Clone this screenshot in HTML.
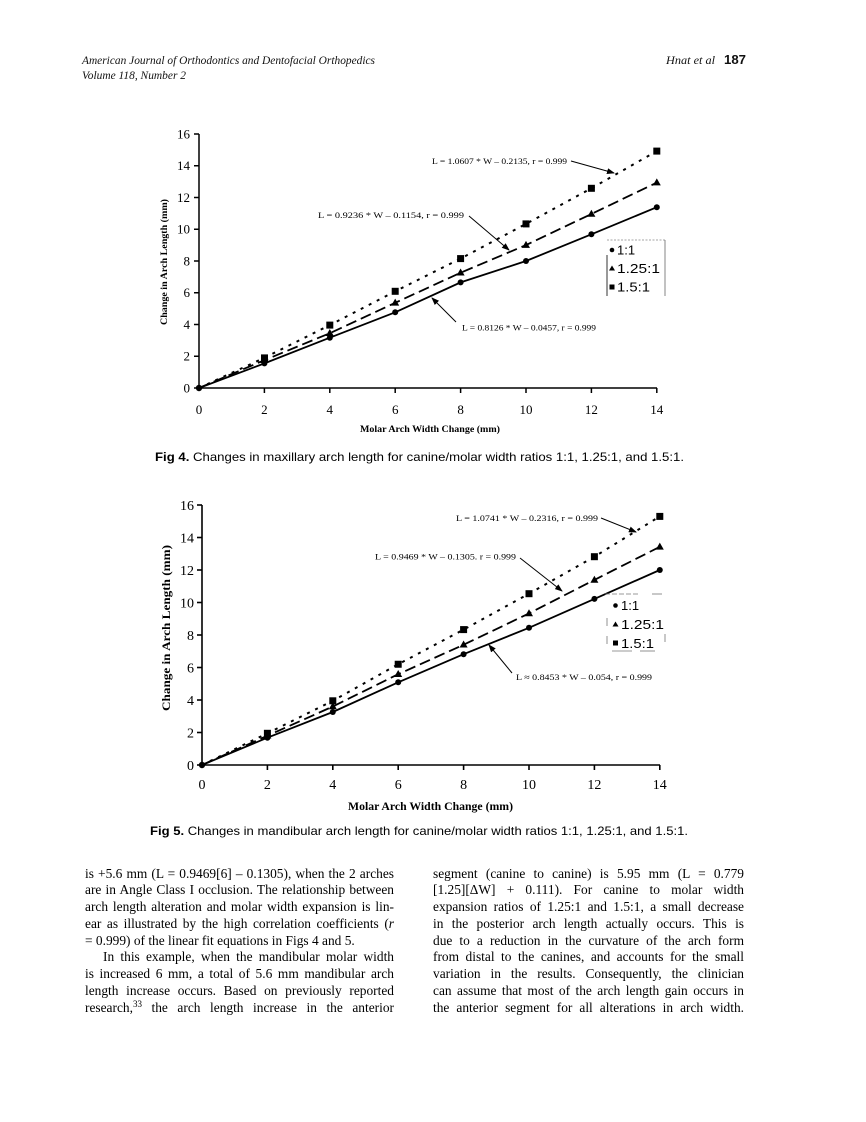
<!DOCTYPE html>
<html><head><meta charset="utf-8">
<style>
html,body{margin:0;padding:0;background:#fff;}
body{position:relative;width:866px;height:1122px;overflow:hidden;}
svg{display:block;position:absolute;left:0;top:0;}
.ser{font-family:"Liberation Serif",serif;}
.san{font-family:"Liberation Sans",sans-serif;}
.col{position:absolute;font-family:"Liberation Serif",serif;font-size:13.4px;line-height:16.75px;color:#000;}
.col div{white-space:nowrap;text-align:justify;text-align-last:justify;height:16.75px;}
.col div.end{text-align-last:left;}
.col sup{font-size:9px;line-height:0;vertical-align:5px;}
</style></head>
<body>
<svg width="866" height="1122" viewBox="0 0 866 1122" xmlns="http://www.w3.org/2000/svg">
<defs>
<marker id="ah" markerWidth="8" markerHeight="6" refX="7" refY="3" orient="auto" markerUnits="userSpaceOnUse">
<path d="M0,0 L8,3 L0,6 z" fill="#000"/>
</marker>
</defs>
<rect width="866" height="1122" fill="#fff"/>

<!-- Header -->
<g class="ser" font-style="italic" font-size="11.5" fill="#111">
<text x="82" y="64" textLength="293" lengthAdjust="spacingAndGlyphs">American Journal of Orthodontics and Dentofacial Orthopedics</text>
<text x="82" y="79" textLength="104" lengthAdjust="spacingAndGlyphs">Volume 118, Number 2</text>
<text x="666" y="64" textLength="49" lengthAdjust="spacingAndGlyphs">Hnat et al</text>
</g>
<text class="san" x="724" y="64" font-size="12.5" font-weight="bold" fill="#111" textLength="22" lengthAdjust="spacingAndGlyphs">187</text>

<!-- ================= CHART 1 ================= -->
<g stroke="#000" stroke-width="1.5" fill="none">
<line x1="199" y1="134" x2="199" y2="388"/>
<line x1="199" y1="388" x2="657" y2="388"/>
<line x1="194" y1="388" x2="199" y2="388"/>
<line x1="194" y1="356.25" x2="199" y2="356.25"/>
<line x1="194" y1="324.5" x2="199" y2="324.5"/>
<line x1="194" y1="292.75" x2="199" y2="292.75"/>
<line x1="194" y1="261" x2="199" y2="261"/>
<line x1="194" y1="229.25" x2="199" y2="229.25"/>
<line x1="194" y1="197.5" x2="199" y2="197.5"/>
<line x1="194" y1="165.75" x2="199" y2="165.75"/>
<line x1="194" y1="134" x2="199" y2="134"/>
<line x1="264.4" y1="388" x2="264.4" y2="393"/>
<line x1="329.8" y1="388" x2="329.8" y2="393"/>
<line x1="395.2" y1="388" x2="395.2" y2="393"/>
<line x1="460.6" y1="388" x2="460.6" y2="393"/>
<line x1="526" y1="388" x2="526" y2="393"/>
<line x1="591.4" y1="388" x2="591.4" y2="393"/>
<line x1="656.8" y1="388" x2="656.8" y2="393"/>
</g>
<g class="ser" font-size="13" fill="#000" text-anchor="end">
<text x="190" y="392.5">0</text>
<text x="190" y="360.7">2</text>
<text x="190" y="329">4</text>
<text x="190" y="297.2">6</text>
<text x="190" y="265.5">8</text>
<text x="190" y="233.7">10</text>
<text x="190" y="202">12</text>
<text x="190" y="170.2">14</text>
<text x="190" y="138.5">16</text>
</g>
<g class="ser" font-size="13" fill="#000" text-anchor="middle">
<text x="199" y="414">0</text>
<text x="264.4" y="414">2</text>
<text x="329.8" y="414">4</text>
<text x="395.2" y="414">6</text>
<text x="460.6" y="414">8</text>
<text x="526" y="414">10</text>
<text x="591.4" y="414">12</text>
<text x="656.8" y="414">14</text>
</g>
<text class="ser" x="360" y="432" font-size="9.5" font-weight="bold" textLength="140" lengthAdjust="spacingAndGlyphs">Molar Arch Width Change (mm)</text>
<text class="ser" transform="translate(167,262) rotate(-90)" x="-63" y="0" font-size="9.5" font-weight="bold" textLength="126" lengthAdjust="spacingAndGlyphs">Change in Arch Length (mm)</text>

<polyline fill="none" stroke="#000" stroke-width="1.8" points="199,388 264.4,363.4 329.8,337.7 395.2,312.3 460.6,282.4 526,261 591.4,234.3 656.8,207.2"/>
<polyline fill="none" stroke="#000" stroke-width="1.8" stroke-dasharray="11 5" points="199,388 264.4,360.2 329.8,333.2 395.2,302.8 460.6,272.7 526,245.1 591.4,214 656.8,182.6"/>
<polyline fill="none" stroke="#000" stroke-width="2" stroke-dasharray="3 6" points="199,388 264.4,357.8 329.8,325.1 395.2,291.3 460.6,258.6 526,223.9 591.4,188.3 656.8,151.1"/>
<g fill="#000">
<circle cx="199" cy="388" r="3.2"/>
<circle cx="264.4" cy="363.4" r="3"/><circle cx="329.8" cy="337.7" r="3"/><circle cx="395.2" cy="312.3" r="3"/><circle cx="460.6" cy="282.4" r="3"/><circle cx="526" cy="261" r="3"/><circle cx="591.4" cy="234.3" r="3"/><circle cx="656.8" cy="207.2" r="3"/>
<path d="M264.4,356 l-4,7 h8z M329.8,329 l-4,7 h8z M395.2,298.6 l-4,7 h8z M460.6,268.5 l-4,7 h8z M526,240.9 l-4,7 h8z M591.4,209.8 l-4,7 h8z M656.8,178.4 l-4,7 h8z"/>
<rect x="261" y="354.4" width="7" height="7"/><rect x="326.3" y="321.6" width="7" height="7"/><rect x="391.7" y="287.8" width="7" height="7"/><rect x="457.1" y="255.1" width="7" height="7"/><rect x="522.5" y="220.4" width="7" height="7"/><rect x="587.9" y="184.8" width="7" height="7"/><rect x="653.3" y="147.6" width="7" height="7"/>
</g>
<g class="ser" font-size="8.5" fill="#000">
<text x="432" y="164" textLength="135" lengthAdjust="spacingAndGlyphs">L = 1.0607 * W – 0.2135,  r = 0.999</text>
<text x="318" y="218" textLength="146" lengthAdjust="spacingAndGlyphs">L = 0.9236 * W – 0.1154,  r = 0.999</text>
<text x="462" y="330.5" textLength="134" lengthAdjust="spacingAndGlyphs">L = 0.8126 * W – 0.0457,  r = 0.999</text>
</g>
<g stroke="#000" stroke-width="1" marker-end="url(#ah)">
<line x1="571" y1="161" x2="614" y2="173"/>
<line x1="469" y1="216" x2="509" y2="250"/>
<line x1="456" y1="322" x2="432" y2="298"/>
</g>
<g>
<line x1="607" y1="240" x2="665" y2="240" stroke="#888" stroke-width="0.8" stroke-dasharray="2 1.5"/>
<line x1="607" y1="255" x2="607" y2="296" stroke="#333" stroke-width="1"/>
<line x1="665" y1="240" x2="665" y2="296" stroke="#666" stroke-width="0.8"/>
<circle cx="612" cy="250" r="2.3" fill="#000"/>
<path d="M612,265.5 l-3,5 h6z" fill="#000"/>
<rect x="609.5" y="284.5" width="5" height="5" fill="#000"/>
<g class="san" font-size="13" fill="#000">
<text x="617" y="254.5">1:1</text>
<text x="617" y="273" textLength="43" lengthAdjust="spacingAndGlyphs">1.25:1</text>
<text x="617" y="291.5" textLength="33" lengthAdjust="spacingAndGlyphs">1.5:1</text>
</g>
</g>

<text class="san" x="155" y="461" font-size="12" fill="#000" textLength="529" lengthAdjust="spacingAndGlyphs"><tspan font-weight="bold">Fig 4.</tspan> Changes in maxillary arch length for canine/molar width ratios 1:1, 1.25:1, and 1.5:1.</text>

<!-- ================= CHART 2 ================= -->
<g stroke="#000" stroke-width="1.6" fill="none">
<line x1="202" y1="505" x2="202" y2="765"/>
<line x1="202" y1="765" x2="660" y2="765"/>
<line x1="197" y1="765" x2="202" y2="765"/>
<line x1="197" y1="732.5" x2="202" y2="732.5"/>
<line x1="197" y1="700" x2="202" y2="700"/>
<line x1="197" y1="667.5" x2="202" y2="667.5"/>
<line x1="197" y1="635" x2="202" y2="635"/>
<line x1="197" y1="602.5" x2="202" y2="602.5"/>
<line x1="197" y1="570" x2="202" y2="570"/>
<line x1="197" y1="537.5" x2="202" y2="537.5"/>
<line x1="197" y1="505" x2="202" y2="505"/>
<line x1="267.4" y1="765" x2="267.4" y2="770"/>
<line x1="332.8" y1="765" x2="332.8" y2="770"/>
<line x1="398.2" y1="765" x2="398.2" y2="770"/>
<line x1="463.6" y1="765" x2="463.6" y2="770"/>
<line x1="529" y1="765" x2="529" y2="770"/>
<line x1="594.4" y1="765" x2="594.4" y2="770"/>
<line x1="659.8" y1="765" x2="659.8" y2="770"/>
</g>
<g class="ser" font-size="14" fill="#000" text-anchor="end">
<text x="194" y="770">0</text>
<text x="194" y="737.5">2</text>
<text x="194" y="705">4</text>
<text x="194" y="672.5">6</text>
<text x="194" y="640">8</text>
<text x="194" y="607.5">10</text>
<text x="194" y="575">12</text>
<text x="194" y="542.5">14</text>
<text x="194" y="510">16</text>
</g>
<g class="ser" font-size="14" fill="#000" text-anchor="middle">
<text x="202" y="789">0</text>
<text x="267.4" y="789">2</text>
<text x="332.8" y="789">4</text>
<text x="398.2" y="789">6</text>
<text x="463.6" y="789">8</text>
<text x="529" y="789">10</text>
<text x="594.4" y="789">12</text>
<text x="659.8" y="789">14</text>
</g>
<text class="ser" x="348" y="810" font-size="11.5" font-weight="bold" textLength="165" lengthAdjust="spacingAndGlyphs">Molar Arch Width Change (mm)</text>
<text class="ser" transform="translate(170,628) rotate(-90)" x="-83" y="0" font-size="11.5" font-weight="bold" textLength="166" lengthAdjust="spacingAndGlyphs">Change in Arch Length (mm)</text>

<polyline fill="none" stroke="#000" stroke-width="1.8" points="202,765 267.4,737.7 332.8,712 398.2,682.3 463.6,654.2 529,627.8 594.4,598.9 659.8,570"/>
<polyline fill="none" stroke="#000" stroke-width="1.8" stroke-dasharray="11 5" points="202,765 267.4,735.75 332.8,706.5 398.2,674.2 463.6,644.75 529,613.4 594.4,579.9 659.8,546.8"/>
<polyline fill="none" stroke="#000" stroke-width="2" stroke-dasharray="3 6" points="202,765 267.4,733.3 332.8,700.8 398.2,664.25 463.6,629.6 529,593.7 594.4,556.7 659.8,516.4"/>
<g fill="#000">
<circle cx="202" cy="765" r="3.2"/>
<circle cx="267.4" cy="737.7" r="3"/><circle cx="332.8" cy="712" r="3"/><circle cx="398.2" cy="682.3" r="3"/><circle cx="463.6" cy="654.2" r="3"/><circle cx="529" cy="627.8" r="3"/><circle cx="594.4" cy="598.9" r="3"/><circle cx="659.8" cy="570" r="3"/>
<path d="M267.4,731.5 l-4,7 h8z M332.8,702.3 l-4,7 h8z M398.2,670 l-4,7 h8z M463.6,640.5 l-4,7 h8z M529,609.2 l-4,7 h8z M594.4,575.7 l-4,7 h8z M659.8,542.6 l-4,7 h8z"/>
<rect x="263.9" y="729.8" width="7" height="7"/><rect x="329.3" y="697.3" width="7" height="7"/><rect x="394.7" y="660.75" width="7" height="7"/><rect x="460.1" y="626.1" width="7" height="7"/><rect x="525.5" y="590.2" width="7" height="7"/><rect x="590.9" y="553.2" width="7" height="7"/><rect x="656.3" y="512.9" width="7" height="7"/>
</g>
<g class="ser" font-size="8.5" fill="#000">
<text x="456" y="521" textLength="142" lengthAdjust="spacingAndGlyphs">L = 1.0741 * W – 0.2316,  r = 0.999</text>
<text x="375" y="559.5" textLength="141" lengthAdjust="spacingAndGlyphs">L = 0.9469 * W – 0.1305.  r = 0.999</text>
<text x="516" y="680" textLength="136" lengthAdjust="spacingAndGlyphs">L ≈ 0.8453 * W – 0.054,  r = 0.999</text>
</g>
<g stroke="#000" stroke-width="1" marker-end="url(#ah)">
<line x1="601" y1="518" x2="636" y2="532"/>
<line x1="520" y1="558" x2="562" y2="591"/>
<line x1="512" y1="673" x2="489" y2="645"/>
</g>
<g>
<line x1="605" y1="594" x2="640" y2="594" stroke="#777" stroke-width="0.8" stroke-dasharray="5 2"/>
<line x1="652" y1="594" x2="662" y2="594" stroke="#777" stroke-width="0.8"/>
<line x1="612" y1="651" x2="632" y2="651" stroke="#777" stroke-width="0.8"/>
<line x1="640" y1="651" x2="655" y2="651" stroke="#777" stroke-width="0.8"/>
<line x1="607" y1="618" x2="607" y2="626" stroke="#777" stroke-width="0.8"/>
<line x1="607" y1="636" x2="607" y2="644" stroke="#777" stroke-width="0.8"/>
<line x1="665" y1="634" x2="665" y2="642" stroke="#777" stroke-width="0.8"/>
<circle cx="615.5" cy="605.5" r="2.3" fill="#000"/>
<path d="M615.5,621.5 l-3,5 h6z" fill="#000"/>
<rect x="613" y="640.5" width="5" height="5" fill="#000"/>
<g class="san" font-size="13" fill="#000">
<text x="621" y="610">1:1</text>
<text x="621" y="629" textLength="43" lengthAdjust="spacingAndGlyphs">1.25:1</text>
<text x="621" y="648" textLength="33" lengthAdjust="spacingAndGlyphs">1.5:1</text>
</g>
</g>

<text class="san" x="150" y="835" font-size="12" fill="#000" textLength="538" lengthAdjust="spacingAndGlyphs"><tspan font-weight="bold">Fig 5.</tspan> Changes in mandibular arch length for canine/molar width ratios 1:1, 1.25:1, and 1.5:1.</text>
</svg>

<div class="col" style="left:85px;top:865.6px;width:309px;">
<div>is +5.6 mm (L = 0.9469[6] – 0.1305), when the 2 arches</div>
<div>are in Angle Class I occlusion. The relationship between</div>
<div>arch length alteration and molar width expansion is lin-</div>
<div>ear as illustrated by the high correlation coefficients (<i>r</i></div>
<div class="end">= 0.999) of the linear fit equations in Figs 4 and 5.</div>
<div style="padding-left:18px;">In this example, when the mandibular molar width</div>
<div>is increased 6 mm, a total of 5.6 mm mandibular arch</div>
<div>length increase occurs. Based on previously reported</div>
<div>research,<sup>33</sup> the arch length increase in the anterior</div>
</div>

<div class="col" style="left:433px;top:865.6px;width:311px;">
<div>segment (canine to canine) is 5.95 mm (L = 0.779</div>
<div>[1.25][ΔW] + 0.111). For canine to molar width</div>
<div>expansion ratios of 1.25:1 and 1.5:1, a small decrease</div>
<div>in the posterior arch length actually occurs. This is</div>
<div>due to a reduction in the curvature of the arch form</div>
<div>from distal to the canines, and accounts for the small</div>
<div>variation in the results. Consequently, the clinician</div>
<div>can assume that most of the arch length gain occurs in</div>
<div>the anterior segment for all alterations in arch width.</div>
</div>
</body></html>
